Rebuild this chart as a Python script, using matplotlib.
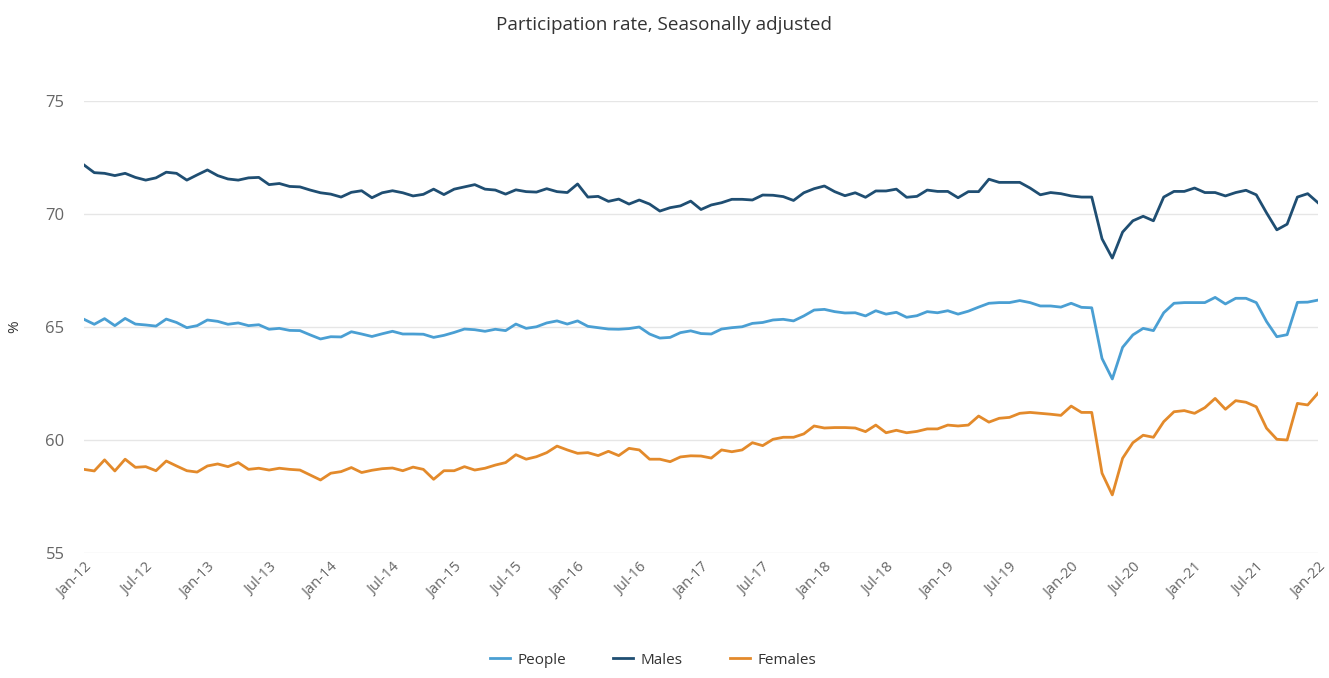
import matplotlib
matplotlib.use("Agg")
import matplotlib.pyplot as plt

# monthly values, Jan-12 .. Jan-22
people = [
    65.34, 65.12, 65.37, 65.06, 65.38, 65.13, 65.09, 65.04, 65.35, 65.20, 64.97, 65.06,
    65.31, 65.25, 65.12, 65.18, 65.06, 65.10, 64.90, 64.94, 64.85, 64.84, 64.65, 64.47,
    64.57, 64.56, 64.79, 64.69, 64.58, 64.70, 64.81, 64.69, 64.69, 64.68, 64.54, 64.63,
    64.76, 64.91, 64.88, 64.81, 64.90, 64.84, 65.13, 64.94, 65.01, 65.18, 65.27, 65.13,
    65.27, 65.03, 64.97, 64.91, 64.90, 64.93, 65.00, 64.69, 64.51, 64.54, 64.75, 64.83,
    64.71, 64.69, 64.91, 64.97, 65.01, 65.16, 65.20, 65.31, 65.34, 65.27, 65.49, 65.75,
    65.78, 65.68, 65.62, 65.63, 65.49, 65.72, 65.57, 65.65, 65.43, 65.50, 65.68, 65.63,
    65.72, 65.57, 65.70, 65.88, 66.05, 66.08, 66.08, 66.17, 66.08, 65.93, 65.93, 65.88,
    66.05, 65.87, 65.85, 63.61, 62.70, 64.10, 64.65, 64.94, 64.84, 65.63, 66.05, 66.08,
    66.08, 66.08, 66.31, 66.02, 66.27, 66.27, 66.08, 65.24, 64.57, 64.66, 66.09, 66.10,
    66.19,
]
males = [
    72.17, 71.83, 71.80, 71.70, 71.80, 71.62, 71.50, 71.60, 71.85, 71.80, 71.50, 71.73,
    71.95, 71.70, 71.55, 71.50, 71.60, 71.62, 71.30, 71.35, 71.22, 71.20, 71.06, 70.94,
    70.88, 70.75, 70.96, 71.03, 70.72, 70.94, 71.03, 70.94, 70.80, 70.87, 71.10, 70.86,
    71.10, 71.20, 71.30, 71.10, 71.06, 70.88, 71.07, 70.99, 70.97, 71.12, 70.99, 70.95,
    71.33, 70.75, 70.78, 70.56, 70.66, 70.44, 70.62, 70.44, 70.13, 70.28, 70.36, 70.57,
    70.20, 70.40, 70.50, 70.65, 70.65, 70.62, 70.84, 70.83, 70.77, 70.60, 70.94, 71.12,
    71.24, 70.99, 70.81, 70.94, 70.74, 71.02, 71.02, 71.10, 70.74, 70.78, 71.06, 71.00,
    71.00, 70.72, 70.99, 70.99, 71.54, 71.40, 71.40, 71.40, 71.15, 70.85, 70.95, 70.90,
    70.80, 70.75, 70.75, 68.90, 68.05, 69.20, 69.70, 69.90, 69.70, 70.75, 71.00, 71.00,
    71.15, 70.95, 70.95, 70.80, 70.95, 71.05, 70.85, 70.05, 69.30, 69.55, 70.75, 70.90,
    70.50,
]
females = [
    58.70, 58.63, 59.12, 58.63, 59.15, 58.79, 58.82, 58.64, 59.07, 58.85, 58.64, 58.58,
    58.85, 58.94, 58.82, 59.00, 58.70, 58.75, 58.67, 58.75, 58.70, 58.67, 58.45, 58.23,
    58.53, 58.60, 58.78, 58.56, 58.66, 58.73, 58.76, 58.64, 58.80, 58.70, 58.26, 58.64,
    58.64, 58.82, 58.67, 58.75, 58.89, 59.00, 59.35, 59.15, 59.26, 59.44, 59.73, 59.56,
    59.41, 59.44, 59.31, 59.50, 59.31, 59.63, 59.56, 59.15, 59.15, 59.04, 59.25, 59.30,
    59.29, 59.20, 59.56, 59.48, 59.56, 59.88, 59.75, 60.03, 60.12, 60.12, 60.27, 60.62,
    60.53, 60.55, 60.55, 60.53, 60.37, 60.66, 60.32, 60.43, 60.32, 60.38, 60.49, 60.49,
    60.66, 60.62, 60.66, 61.06, 60.79, 60.96, 61.00, 61.18, 61.22, 61.18, 61.14, 61.09,
    61.50, 61.22, 61.22, 58.53, 57.57, 59.19, 59.88, 60.21, 60.12, 60.81, 61.25, 61.30,
    61.18, 61.43, 61.84, 61.36, 61.74, 61.67, 61.47, 60.52, 60.03, 60.00, 61.62, 61.55,
    62.07,
]

tick_labels = [
    "Jan-12", "Jul-12", "Jan-13", "Jul-13", "Jan-14", "Jul-14", "Jan-15",
    "Jul-15", "Jan-16", "Jul-16", "Jan-17", "Jul-17", "Jan-18", "Jul-18",
    "Jan-19", "Jul-19", "Jan-20", "Jul-20", "Jan-21", "Jul-21", "Jan-22",
]
y_ticks = [55, 60, 65, 70, 75]

plt.rcParams["font.family"] = ["Open Sans", "DejaVu Sans"]

fig = plt.figure(figsize=(13.29, 6.78), dpi=100)
ax = fig.add_axes([0.0632, 0.1844, 0.9285, 0.6666])

x = list(range(len(people)))
ax.plot(x, people, color="#4a9fd3", lw=2.0, label="People", zorder=3)
ax.plot(x, males, color="#1f4e72", lw=2.0, label="Males", zorder=3)
ax.plot(x, females, color="#e38a2b", lw=2.0, label="Females", zorder=3)

ax.set_xlim(0, len(people) - 1)
ax.set_ylim(55, 75)
ax.set_yticks(y_ticks)
ax.set_xticks(range(0, len(people), 6))
ax.set_xticklabels(tick_labels, rotation=45, ha="right", va="top",
                   rotation_mode="anchor", fontsize=10.5, color="#666666")
ax.tick_params(axis="y", labelsize=12, labelcolor="#666666", length=0, pad=14)
ax.tick_params(axis="x", length=0, pad=5)

ax.grid(axis="y", color="#e6e6e6", lw=1)
ax.set_axisbelow(True)
for s in ax.spines.values():
    s.set_visible(False)

ax.set_ylabel("%", fontsize=11, color="#333333")
ax.yaxis.set_label_coords(-0.05, 0.5)
fig.suptitle("Participation rate, Seasonally adjusted", y=0.977,
             fontsize=13.6, color="#333333")

fig.legend(loc="lower center", bbox_to_anchor=(0.4914, -0.005), ncol=3,
           frameon=False, fontsize=11, handlelength=1.3, handletextpad=0.5,
           columnspacing=3.1, labelcolor="#333333")

fig.savefig("out.png", dpi=100)
